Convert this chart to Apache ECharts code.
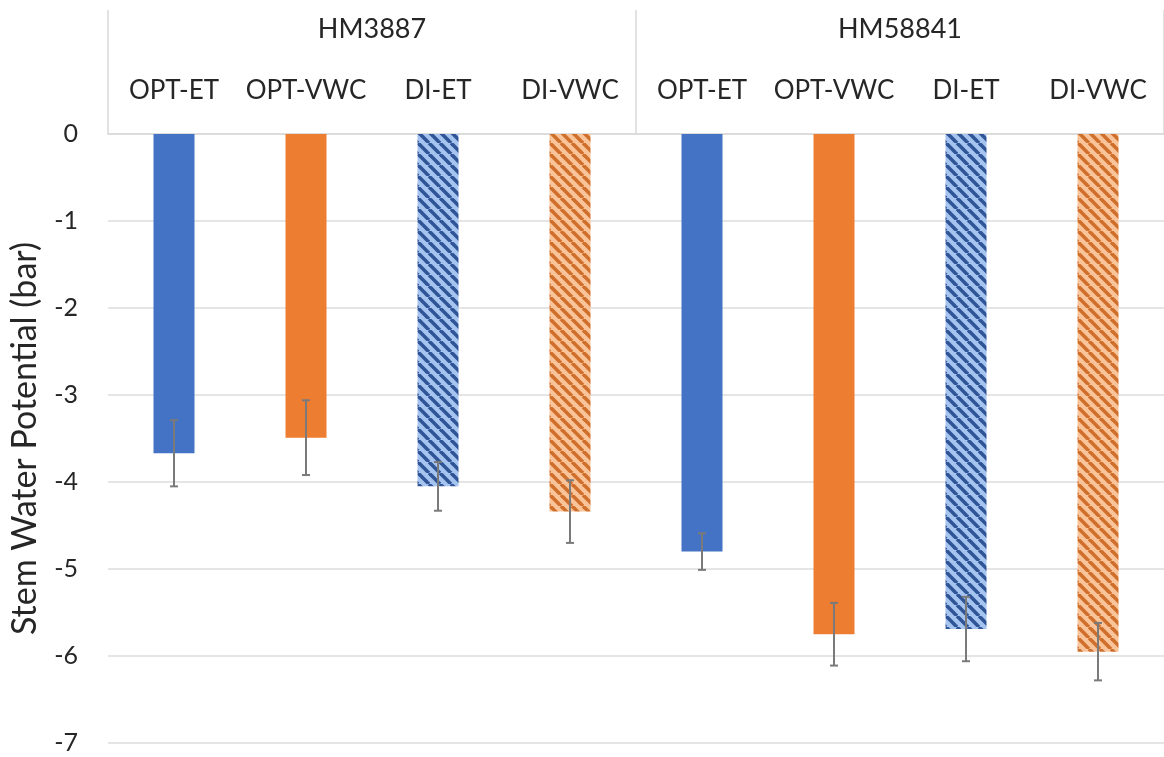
<!DOCTYPE html>
<html><head><meta charset="utf-8">
<script src="https://cdn.jsdelivr.net/npm/echarts@6/dist/echarts.min.js"></script>
<style>html,body{margin:0;padding:0;background:#fff}#c{width:1164px;height:757px}</style>
</head><body><div id="c"></div>
<script>
const groups = ['HM3887', 'HM58841'];
const treatments = ['OPT-ET', 'OPT-VWC', 'DI-ET', 'DI-VWC', 'OPT-ET', 'OPT-VWC', 'DI-ET', 'DI-VWC'];
const means = [-3.67, -3.49, -4.05, -4.34, -4.80, -5.75, -5.69, -5.95];
const errors = [0.38, 0.43, 0.28, 0.36, 0.21, 0.36, 0.37, 0.33];
const yTicks = [0, -1, -2, -3, -4, -5, -6, -7];

function stripes(bg, fg) {
  const s = 11, c = document.createElement('canvas');
  c.width = s; c.height = s;
  const g = c.getContext('2d');
  g.fillStyle = bg; g.fillRect(0, 0, s, s);
  g.strokeStyle = fg; g.lineWidth = 3.6;
  for (const k of [-s, 0, s]) { g.beginPath(); g.moveTo(k, 0); g.lineTo(k + s, s); g.stroke(); }
  return { image: c, repeat: 'repeat' };
}
const styles = {
  'OPT-ET': '#4472C4',
  'OPT-VWC': '#ED7D31',
  'DI-ET': stripes('#a6c4f0', '#2f5597'),
  'DI-VWC': stripes('#f9c49a', '#d06f2c')
};

const chart = echarts.init(document.getElementById('c'));
const FONT = 'Lato';
chart.setOption({
  animation: false,
  grid: { left: 108, right: 0, top: 134, bottom: 14, outerBoundsMode: 'none', containLabel: false },
  xAxis: [{
    type: 'category', position: 'top', data: treatments, offset: 0,
    axisLine: { show: true, onZero: false, lineStyle: { color: '#d9d9d9', width: 1.5 } },
    axisTick: { show: false },
    axisLabel: { interval: 0, fontSize: 26, fontFamily: FONT, color: '#262626', margin: 30 }
  }, {
    type: 'category', position: 'top', data: groups, offset: 0,
    axisLine: { show: false, onZero: false },
    axisTick: { show: true, interval: 0, length: 124, lineStyle: { color: '#d9d9d9', width: 1.5 } },
    axisLabel: { interval: 0, fontSize: 27, fontFamily: FONT, color: '#262626', margin: 91 }
  }],
  yAxis: {
    type: 'value', min: -7, max: 0, interval: 1,
    name: 'Stem Water Potential (bar)', nameLocation: 'middle', nameGap: 66,
    nameTextStyle: { fontSize: 34, fontFamily: FONT, color: '#262626' },
    axisLine: { show: false }, axisTick: { show: false },
    splitLine: { lineStyle: { color: '#dcdcdc', width: 1.5 } },
    axisLabel: { fontSize: 25, fontFamily: FONT, color: '#262626', margin: 30, align: 'right',
      formatter: v => String(v) }
  },
  series: [{
    type: 'bar', xAxisIndex: 0, barWidth: 41,
    data: means.map((v, i) => ({ value: v, itemStyle: { color: styles[treatments[i]] } }))
  }, {
    type: 'custom', xAxisIndex: 0, z: 5,
    data: means.map((v, i) => [i, v, errors[i]]),
    renderItem: function (params, api) {
      const i = api.value(0), m = api.value(1), e = api.value(2);
      const top = api.coord([i, m + e]), bot = api.coord([i, m - e]);
      const cw = 4;
      const st = { stroke: '#7a7a7a', lineWidth: 2 };
      return { type: 'group', children: [
        { type: 'line', shape: { x1: top[0], y1: top[1], x2: bot[0], y2: bot[1] }, style: st },
        { type: 'line', shape: { x1: top[0] - cw, y1: top[1], x2: top[0] + cw, y2: top[1] }, style: st },
        { type: 'line', shape: { x1: bot[0] - cw, y1: bot[1], x2: bot[0] + cw, y2: bot[1] }, style: st }
      ] };
    }
  }]
});
</script></body></html>
